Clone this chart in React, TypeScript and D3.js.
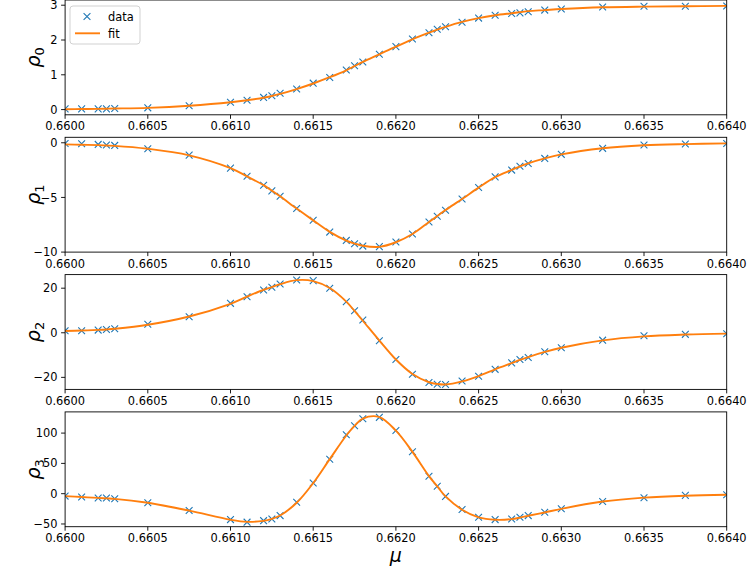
import React from "react";
import * as d3 from "d3";

// ---- data ----
const MU = [0.6600, 0.6601, 0.6602, 0.66025, 0.6603, 0.6605, 0.66075, 0.6610, 0.6611, 0.6612, 0.66125, 0.6613, 0.6614, 0.6615, 0.6616, 0.6617, 0.66175, 0.6618, 0.6619, 0.6620, 0.6621, 0.6622, 0.66225, 0.6623, 0.6624, 0.6625, 0.6626, 0.6627, 0.66275, 0.6628, 0.6629, 0.6630, 0.66325, 0.6635, 0.66375, 0.6640];

const RHO0 = [0.02, 0.02, 0.02, 0.02, 0.03, 0.05, 0.11, 0.21, 0.27, 0.35, 0.40, 0.47, 0.59, 0.76, 0.92, 1.14, 1.26, 1.37, 1.59, 1.81, 2.03, 2.21, 2.31, 2.38, 2.51, 2.63, 2.71, 2.76, 2.78, 2.81, 2.86, 2.89, 2.95, 2.97, 2.97, 2.98];
const RHO1 = [-0.06, -0.09, -0.15, -0.21, -0.24, -0.55, -1.13, -2.32, -3.06, -3.88, -4.40, -4.89, -6.02, -7.09, -8.17, -8.93, -9.23, -9.45, -9.50, -9.08, -8.35, -7.25, -6.72, -6.17, -5.14, -4.09, -3.12, -2.50, -2.14, -1.89, -1.43, -1.06, -0.51, -0.21, -0.12, -0.06];
const RHO2 = [0.9, 0.9, 1.2, 1.5, 1.8, 3.8, 7.2, 13.2, 16.2, 19.2, 20.4, 21.9, 23.7, 23.4, 20.0, 13.9, 9.9, 5.7, -3.6, -12.0, -18.6, -22.3, -23.1, -23.2, -21.6, -19.5, -16.4, -13.5, -12.0, -11.1, -8.5, -6.7, -3.3, -1.3, -0.7, -0.4];
const RHO3 = [-4, -5.5, -7.2, -7.2, -8.3, -15, -27.8, -42.8, -47, -44.5, -41.7, -36.2, -14, 17.7, 56.7, 97.2, 112.2, 123.8, 126.0, 104.3, 69.3, 28.8, 12.2, -4.5, -26.2, -39.0, -42.8, -41.7, -39, -36.2, -30.7, -25, -12.8, -6.7, -2.8, -1.7];

const FIT0 = [0.01, 0.015, 0.02, 0.025, 0.03, 0.05, 0.11, 0.21, 0.27, 0.34, 0.39, 0.45, 0.59, 0.75, 0.93, 1.13, 1.25, 1.37, 1.59, 1.81, 2.02, 2.21, 2.30, 2.38, 2.52, 2.63, 2.71, 2.77, 2.80, 2.83, 2.86, 2.89, 2.94, 2.96, 2.97, 2.98];
const FIT1 = [-0.15, -0.18, -0.22, -0.25, -0.28, -0.55, -1.15, -2.32, -3.08, -3.88, -4.38, -4.90, -6.02, -7.10, -8.15, -8.95, -9.22, -9.42, -9.52, -9.10, -8.35, -7.25, -6.70, -6.15, -5.15, -4.10, -3.15, -2.48, -2.15, -1.88, -1.43, -1.06, -0.50, -0.23, -0.12, -0.06];
const FIT2 = [0.8, 1.0, 1.3, 1.5, 1.8, 3.6, 7.3, 13.0, 16.2, 19.3, 20.5, 21.8, 23.6, 23.2, 20.1, 14.0, 9.8, 5.4, -3.5, -12.0, -18.5, -22.2, -23.0, -23.2, -21.8, -19.4, -16.4, -13.6, -12.2, -10.9, -8.6, -6.7, -3.4, -1.6, -0.8, -0.4];
const FIT3 = [-4, -5.5, -7, -7.8, -8.5, -15, -28, -43, -46.5, -44.8, -41.5, -36, -15, 17.5, 57, 96, 112, 124, 126.5, 104, 69, 29, 12, -4.5, -26.5, -39, -43, -42, -39.5, -36.5, -31, -25, -13, -6.5, -3.3, -1.8];

const X_TICKS = [0.6600, 0.6605, 0.6610, 0.6615, 0.6620, 0.6625, 0.6630, 0.6635, 0.6640];
const Y_TICKS = [[0, 1, 2, 3], [-10, -5, 0], [-20, 0, 20], [-50, 0, 50, 100]];
const Y_DOMAINS: [number, number][] = [[-0.15, 3.15], [-10.0, 0.5], [-25.4, 26.1], [-54.5, 135]];
const SUBS = ["0", "1", "2", "3"];
const SERIES = [RHO0, RHO1, RHO2, RHO3];
const FITS = [FIT0, FIT1, FIT2, FIT3];

// ---- layout ----
const W = 748, H = 579;
const LEFT = 65.1, RIGHT = 726.7;
const TOP0 = 0, PH = 114.8, PITCH = 137.3;
const FONT = "'DejaVu Sans', sans-serif";
const BLUE = "#1f77b4", ORANGE = "#ff7f0e";

const fmtMinus = (v: number) => (v < 0 ? "\u2212" + Math.abs(v) : String(v));

export default function App() {
  const x = d3.scaleLinear().domain([0.6600, 0.6640]).range([LEFT, RIGHT]);
  const xMarker = "M-3.4,-3.4L3.4,3.4M-3.4,3.4L3.4,-3.4";

  return (
    <svg width={W} height={H} style={{ position: "absolute", left: 0, top: 0, background: "#fff" }} fontFamily={FONT}>
      <rect x={0} y={0} width={W} height={H} fill="#fff" />
      {SERIES.map((data, i) => {
        const top = TOP0 + i * PITCH;
        const bottom = top + PH;
        const y = d3.scaleLinear().domain(Y_DOMAINS[i]).range([bottom, top]);
        const line = d3
          .line<number>()
          .x((_, k) => x(MU[k]))
          .y((v) => y(v))
          .curve(d3.curveCatmullRom.alpha(0.5));
        const clipId = `clip${i}`;
        const cy = (top + bottom) / 2;
        return (
          <g key={i}>
            <defs>
              <clipPath id={clipId}>
                <rect x={LEFT} y={top} width={RIGHT - LEFT} height={PH} />
              </clipPath>
            </defs>
            <g clipPath={`url(#${clipId})`}>
              {data.map((v, k) => (
                <path key={k} d={xMarker} transform={`translate(${x(MU[k])},${y(v)})`} stroke={BLUE} strokeWidth={1.1} fill="none" />
              ))}
              <path d={line(FITS[i]) || ""} fill="none" stroke={ORANGE} strokeWidth={1.9} />
            </g>
            <rect x={LEFT} y={top} width={RIGHT - LEFT} height={PH} fill="none" stroke="#000" strokeWidth={0.9} />
            {/* x ticks */}
            {X_TICKS.map((t) => (
              <g key={t}>
                <line x1={x(t)} x2={x(t)} y1={bottom} y2={bottom + 4} stroke="#000" strokeWidth={0.9} />
                <text x={x(t)} y={bottom + 15.5} textAnchor="middle" fontSize={11.4} fill="#000">
                  {t.toFixed(4)}
                </text>
              </g>
            ))}
            {/* y ticks */}
            {Y_TICKS[i].map((t) => (
              <g key={t}>
                <line x1={LEFT - 4} x2={LEFT} y1={y(t)} y2={y(t)} stroke="#000" strokeWidth={0.9} />
                <text x={LEFT - 7.5} y={y(t) + 4.1} textAnchor="end" fontSize={11.4} fill="#000">
                  {fmtMinus(t)}
                </text>
              </g>
            ))}
            {/* y label */}
            <text transform={`translate(40,${cy}) rotate(-90)`} textAnchor="middle" fontSize={19} fontStyle="italic" fill="#000">
              ρ
              <tspan fontSize={13} fontStyle="normal" dy={3.5}>{SUBS[i]}</tspan>
            </text>
          </g>
        );
      })}
      {/* x label */}
      <text x={(LEFT + RIGHT) / 2} y={562} textAnchor="middle" fontSize={19} fontStyle="italic" fill="#000">μ</text>
      {/* legend */}
      <g>
        <rect x={70} y={6} width={70} height={38} rx={3} fill="#fff" fillOpacity={0.8} stroke="#cccccc" strokeWidth={0.9} />
        <path d={xMarker} transform="translate(87,16.5)" stroke={BLUE} strokeWidth={1.1} fill="none" />
        <text x={108} y={20.5} fontSize={11.4} fill="#000">data</text>
        <line x1={75} x2={100} y1={33.3} y2={33.3} stroke={ORANGE} strokeWidth={1.9} />
        <text x={108} y={37.5} fontSize={11.4} fill="#000">fit</text>
      </g>
    </svg>
  );
}
